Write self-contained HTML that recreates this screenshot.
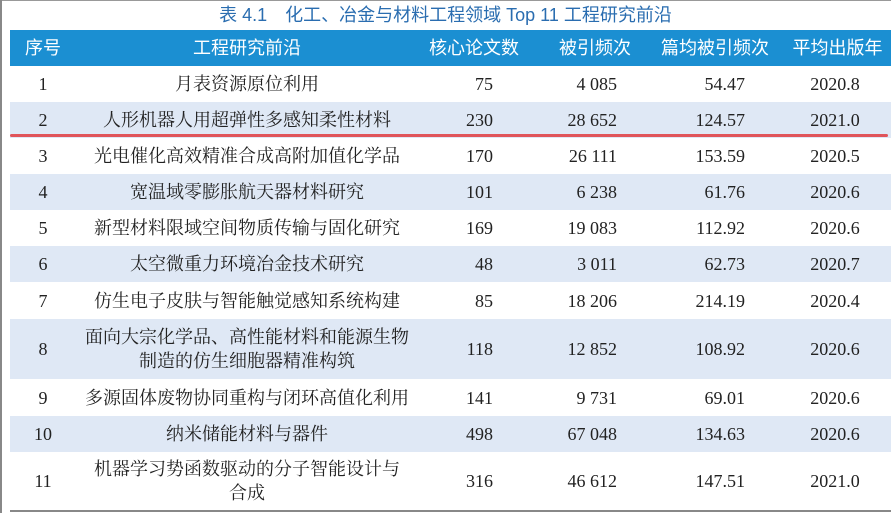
<!DOCTYPE html>
<html><head><meta charset="utf-8"><style>
body{margin:0;width:891px;height:513px;background:#fff;position:relative;overflow:hidden;font-family:"Liberation Serif","Noto Serif CJK SC",serif;color:#222}
.bl{position:absolute;left:0;top:0;width:2px;height:513px;background:#888}
.bt{position:absolute;left:0;top:0;width:891px;height:1px;background:#999}
.title{position:absolute;left:0;width:891px;top:4px;text-align:center;font-family:"Liberation Sans","Noto Sans CJK SC",sans-serif;font-size:18px;color:#2a6db0;line-height:22px}
.hdr{position:absolute;left:10px;top:30px;width:881px;height:36px;background:#1b8fd2;color:#fff;font-family:"Liberation Sans","Noto Sans CJK SC",sans-serif;font-size:18px}
.row{position:absolute;left:10px;width:881px;font-size:18px}
.alt{background:#dfe8f5}
.c{position:absolute;top:0;height:100%;display:flex;align-items:center;line-height:24px}
.c0{left:0;width:66px;justify-content:center}
.c1{left:70px;width:334px;justify-content:center;text-align:center}
.c2{left:405px;width:78px;justify-content:flex-end}
.c3{left:500px;width:107px;justify-content:flex-end}
.c4{left:620px;width:115px;justify-content:flex-end}
.c5{left:760px;width:130px;justify-content:center}
.hdr .c2{left:405px;width:118px;justify-content:center}
.hdr .c3{left:535px;width:100px;justify-content:center}
.hdr .c4{left:640px;width:130px;justify-content:center}
.hdr .c5{left:770px;width:115px;justify-content:center}
.red{position:absolute;left:10px;top:134px;width:878px;height:3px;background:#e0545a;border-radius:2px}
.bot{position:absolute;left:10px;top:510px;width:881px;height:2px;background:#888}
</style></head><body>
<div class="bt"></div><div class="bl"></div>
<div class="title">表 4.1　化工、冶金与材料工程领域 Top 11 工程研究前沿</div>
<div class="hdr"><div class="c c0">序号</div><div class="c c1">工程研究前沿</div><div class="c c2">核心论文数</div><div class="c c3">被引频次</div><div class="c c4">篇均被引频次</div><div class="c c5">平均出版年</div></div>
<div class="row" style="top:66px;height:36px"><div class="c c0">1</div><div class="c c1">月表资源原位利用</div><div class="c c2">75</div><div class="c c3">4 085</div><div class="c c4">54.47</div><div class="c c5">2020.8</div></div>
<div class="row alt" style="top:102px;height:36px"><div class="c c0">2</div><div class="c c1">人形机器人用超弹性多感知柔性材料</div><div class="c c2">230</div><div class="c c3">28 652</div><div class="c c4">124.57</div><div class="c c5">2021.0</div></div>
<div class="row" style="top:138px;height:36px"><div class="c c0">3</div><div class="c c1">光电催化高效精准合成高附加值化学品</div><div class="c c2">170</div><div class="c c3">26 111</div><div class="c c4">153.59</div><div class="c c5">2020.5</div></div>
<div class="row alt" style="top:174px;height:36px"><div class="c c0">4</div><div class="c c1">宽温域零膨胀航天器材料研究</div><div class="c c2">101</div><div class="c c3">6 238</div><div class="c c4">61.76</div><div class="c c5">2020.6</div></div>
<div class="row" style="top:210px;height:36px"><div class="c c0">5</div><div class="c c1">新型材料限域空间物质传输与固化研究</div><div class="c c2">169</div><div class="c c3">19 083</div><div class="c c4">112.92</div><div class="c c5">2020.6</div></div>
<div class="row alt" style="top:246px;height:36px"><div class="c c0">6</div><div class="c c1">太空微重力环境冶金技术研究</div><div class="c c2">48</div><div class="c c3">3 011</div><div class="c c4">62.73</div><div class="c c5">2020.7</div></div>
<div class="row" style="top:282px;height:37px"><div class="c c0">7</div><div class="c c1">仿生电子皮肤与智能触觉感知系统构建</div><div class="c c2">85</div><div class="c c3">18 206</div><div class="c c4">214.19</div><div class="c c5">2020.4</div></div>
<div class="row alt" style="top:319px;height:60px"><div class="c c0">8</div><div class="c c1">面向大宗化学品、高性能材料和能源生物<br>制造的仿生细胞器精准构筑</div><div class="c c2">118</div><div class="c c3">12 852</div><div class="c c4">108.92</div><div class="c c5">2020.6</div></div>
<div class="row" style="top:379px;height:37px"><div class="c c0">9</div><div class="c c1">多源固体废物协同重构与闭环高值化利用</div><div class="c c2">141</div><div class="c c3">9 731</div><div class="c c4">69.01</div><div class="c c5">2020.6</div></div>
<div class="row alt" style="top:416px;height:36px"><div class="c c0">10</div><div class="c c1">纳米储能材料与器件</div><div class="c c2">498</div><div class="c c3">67 048</div><div class="c c4">134.63</div><div class="c c5">2020.6</div></div>
<div class="row" style="top:452px;height:58px"><div class="c c0">11</div><div class="c c1">机器学习势函数驱动的分子智能设计与<br>合成</div><div class="c c2">316</div><div class="c c3">46 612</div><div class="c c4">147.51</div><div class="c c5">2021.0</div></div>
<div class="red"></div><div class="bot"></div>
</body></html>
